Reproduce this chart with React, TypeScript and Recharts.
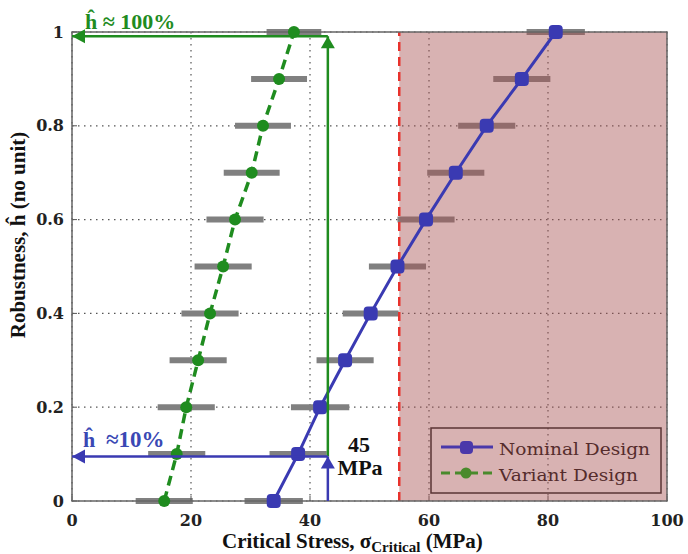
import React from 'react';
import {
  ComposedChart, Scatter, XAxis, YAxis, CartesianGrid, ErrorBar,
  ReferenceArea, ReferenceLine, ReferenceDot,
} from 'recharts';

// ---- data ----
const robustness = [0, 0.1, 0.2, 0.3, 0.4, 0.5, 0.6, 0.7, 0.8, 0.9, 1.0];
const nominalStress = [33.9, 38.0, 41.7, 45.9, 50.2, 54.7, 59.5, 64.5, 69.7, 75.6, 81.3];
const nominalErr = [4.9, 4.8, 4.9, 4.8, 4.7, 4.8, 4.8, 4.8, 4.8, 4.8, 4.9];
const variantStress = [15.5, 17.6, 19.2, 21.2, 23.2, 25.4, 27.4, 30.2, 32.1, 34.8, 37.3];
const variantErr = [4.8, 4.8, 4.8, 4.8, 4.8, 4.8, 4.8, 4.7, 4.7, 4.7, 4.6];
const xTicks = [0, 20, 40, 60, 80, 100];
const yTicks = [0, 0.2, 0.4, 0.6, 0.8, 1];
const criticalLimit = 55;
const nominalRead = { x: 43, y: 0.095 };
const variantRead = { x: 43, y: 0.991 };

const nominalData = robustness.map((y, i) => ({ x: nominalStress[i], y, err: nominalErr[i] }));
const variantData = robustness.map((y, i) => ({ x: variantStress[i], y, err: variantErr[i] }));

const BLUE = '#3a3ab2';
const GREEN = '#1f8c1f';
const serif = '"Liberation Serif", "Times New Roman", serif';
const tickFont = { fontFamily: '"DejaVu Serif", serif', fontWeight: 700, fontSize: 16, fill: '#222' };

const Empty = () => <g />;
const BlueMark = (p: any) => (
  <rect x={p.cx - 7} y={p.cy - 7} width={14} height={14} rx={4} fill={BLUE} />
);
const GreenMark = (p: any) => <circle cx={p.cx} cy={p.cy} r={6} fill={GREEN} />;

const arrowLeft = (color: string) => (p: any) => (
  <polygon points={`${p.cx},${p.cy} ${p.cx + 13},${p.cy - 7} ${p.cx + 13},${p.cy + 7}`} fill={color} />
);
const arrowUp = (color: string) => (p: any) => (
  <polygon points={`${p.cx},${p.cy} ${p.cx - 7},${p.cy + 12} ${p.cx + 7},${p.cy + 12}`} fill={color} />
);

export default function App() {
  return (
    <div style={{ position: 'absolute', left: 0, top: 0, width: 688, height: 554, background: '#fff' }}>
      <ComposedChart width={688} height={554} margin={{ top: 32, right: 21, left: 0, bottom: 0 }}>
        <CartesianGrid stroke="#555" strokeDasharray="1.5 4.5" strokeWidth={1.2} />
        <XAxis
          type="number" dataKey="x" domain={[0, 100]} ticks={xTicks} height={53}
          axisLine={false} tickLine={{ stroke: '#555' }} tickSize={-5} tickMargin={19}
          tick={tickFont} interval={0}
        />
        <YAxis
          type="number" dataKey="y" domain={[0, 1]} ticks={yTicks} width={72}
          axisLine={false} tickLine={{ stroke: '#555' }} tickSize={-5} tickMargin={13}
          tick={tickFont} interval={0}
        />
        <Scatter data={nominalData} shape={Empty} isAnimationActive={false}>
          <ErrorBar dataKey="err" direction="x" stroke="#808080" strokeWidth={6} width={0} isAnimationActive={false} />
        </Scatter>
        <Scatter data={variantData} shape={Empty} isAnimationActive={false}>
          <ErrorBar dataKey="err" direction="x" stroke="#808080" strokeWidth={6} width={0} isAnimationActive={false} />
        </Scatter>
        <ReferenceArea x1={criticalLimit} x2={100} y1={0} y2={1} fill="rgb(168,84,84)" fillOpacity={0.45} stroke="none" zIndex={650} />
        <ReferenceLine x={criticalLimit} stroke="#e8322c" strokeWidth={2.5} strokeDasharray="9 6" zIndex={660} />
        <ReferenceArea x1={0} x2={100} y1={0} y2={1} fill="none" stroke="#666" strokeWidth={1.5} zIndex={660} />
        <Scatter
          data={nominalData} shape={BlueMark} isAnimationActive={false}
          line={{ stroke: BLUE, strokeWidth: 3 }} lineType="joint" zIndex={700}
        />
        <Scatter
          data={variantData} shape={GreenMark} isAnimationActive={false}
          line={{ stroke: GREEN, strokeWidth: 3.5, strokeDasharray: '10 6' }} lineType="joint" zIndex={700}
        />
        <ReferenceLine segment={[{ x: nominalRead.x, y: 0 }, { x: nominalRead.x, y: nominalRead.y }]} stroke={BLUE} strokeWidth={2.5} zIndex={710} />
        <ReferenceLine segment={[{ x: nominalRead.x, y: nominalRead.y }, { x: 0, y: nominalRead.y }]} stroke={BLUE} strokeWidth={2.5} zIndex={710} />
        <ReferenceLine segment={[{ x: variantRead.x, y: nominalRead.y }, { x: variantRead.x, y: variantRead.y }]} stroke={GREEN} strokeWidth={2.5} zIndex={705} />
        <ReferenceLine segment={[{ x: variantRead.x, y: variantRead.y }, { x: 0, y: variantRead.y }]} stroke={GREEN} strokeWidth={2.5} zIndex={705} />
        <ReferenceDot x={0} y={nominalRead.y} r={1} shape={arrowLeft(BLUE)} ifOverflow="visible" zIndex={720} />
        <ReferenceDot x={nominalRead.x} y={nominalRead.y} r={1} shape={arrowUp(BLUE)} ifOverflow="visible" zIndex={720} />
        <ReferenceDot x={0} y={variantRead.y} r={1} shape={arrowLeft(GREEN)} ifOverflow="visible" zIndex={720} />
        <ReferenceDot x={variantRead.x} y={variantRead.y} r={1} shape={arrowUp(GREEN)} ifOverflow="visible" zIndex={720} />
      </ComposedChart>
      <svg width={688} height={554} style={{ position: 'absolute', left: 0, top: 0, pointerEvents: 'none' }}>
        <text x={85} y={29} fontFamily={serif} fontWeight={700} fontSize={22} fill={GREEN}>ĥ ≈ 100%</text>
        <text x={83} y={447} fontFamily={serif} fontWeight={700} fontSize={22} fill="#3a48b4">ĥ</text>
        <text x={106} y={447} fontFamily={serif} fontWeight={700} fontSize={23} fill="#3a48b4">≈10%</text>
        <text x={359} y={452} textAnchor="middle" fontFamily={serif} fontWeight={700} fontSize={22} fill="#111">45</text>
        <text x={360} y={475} textAnchor="middle" fontFamily={serif} fontWeight={700} fontSize={22} fill="#111">MPa</text>
        <text x={222} y={548} fontFamily={serif} fontWeight={700} fontSize={21} fill="#111">
          Critical Stress, σ<tspan fontSize={15} dy={4}>Critical</tspan><tspan dy={-4}> (MPa)</tspan>
        </text>
        <text transform="translate(25,235) rotate(-90)" textAnchor="middle" fontFamily={serif} fontWeight={700} fontSize={21} fill="#111">
          Robustness, ĥ (no unit)
        </text>
        <rect x={431} y={428} width={230} height={65} fill="none" stroke="#5a3434" strokeWidth={1.5} />
        <line x1={441} y1={447} x2={493} y2={447} stroke="#4a38aa" strokeWidth={3} />
        <rect x={460} y={441} width={13} height={13} rx={4} fill="#4a38aa" />
        <text x={499} y={455} fontFamily='"DejaVu Serif", serif' fontSize={17} fill="#552c2c" textLength={151} lengthAdjust="spacingAndGlyphs">Nominal Design</text>
        <line x1={441} y1={473} x2={493} y2={473} stroke="#4a8a2c" strokeWidth={3} strokeDasharray="9 5" />
        <circle cx={466} cy={473} r={5.5} fill="#4a8a2c" />
        <text x={499} y={481} fontFamily='"DejaVu Serif", serif' fontSize={17} fill="#552c2c" textLength={139} lengthAdjust="spacingAndGlyphs">Variant Design</text>
      </svg>
    </div>
  );
}
